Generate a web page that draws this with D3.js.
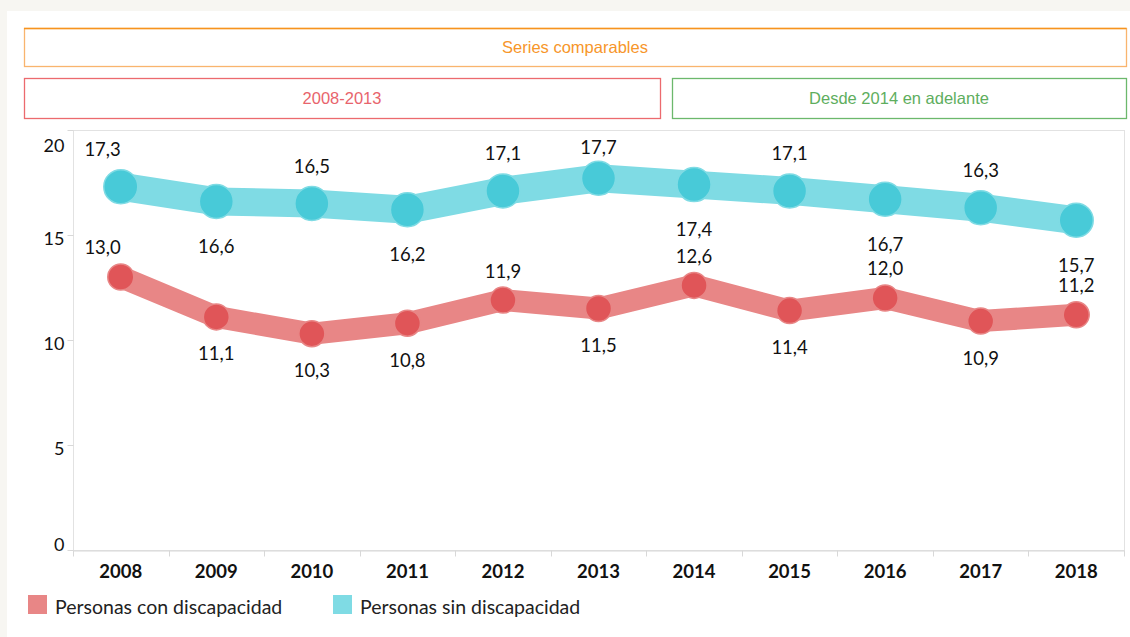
<!DOCTYPE html>
<html>
<head>
<meta charset="utf-8">
<script src="https://cdn.jsdelivr.net/npm/d3@7"></script>
<style>
  body { margin: 0; background: #f7f6f2; }
  svg { display: block; }
  .axis text { font-family: Lato, "Open Sans", sans-serif; fill: #111; }
  .box text { font-family: "Liberation Sans", Arial, sans-serif; font-size: 16.5px; }
</style>
</head>
<body>
<div id="chart"></div>
<script>
// data
var years = ["2008", "2009", "2010", "2011", "2012", "2013", "2014", "2015", "2016", "2017", "2018"];
var conDiscapacidad = [13.0, 11.1, 10.3, 10.8, 11.9, 11.5, 12.6, 11.4, 12.0, 10.9, 11.2];
var sinDiscapacidad = [17.3, 16.6, 16.5, 16.2, 17.1, 17.7, 17.4, 17.1, 16.7, 16.3, 15.7];
var conLabelPos = ["above", "below", "below", "below", "above", "below", "above", "below", "above", "below", "above"];
var sinLabelPos = ["above", "below", "above", "below", "above", "above", "below", "above", "below", "above", "below"];
var yTicks = [0, 5, 10, 15, 20];
var seriesNames = ["Personas con discapacidad", "Personas sin discapacidad"];
var headerTop = "Series comparables";
var headerLeft = "2008-2013";
var headerRight = "Desde 2014 en adelante";

var W = 1130, H = 637;
var svg = d3.select("#chart").append("svg")
    .attr("width", W)
    .attr("height", H);

// white panel
svg.append("rect")
    .attr("x", 7).attr("y", 11)
    .attr("width", W - 7).attr("height", H - 11)
    .attr("fill", "#fff");

// header boxes
var boxes = svg.append("g").attr("class", "box");
function headerBox(x, y, w, h, stroke, color, label) {
    boxes.append("rect")
        .attr("x", x + 0.5).attr("y", y + 0.5)
        .attr("width", w).attr("height", h)
        .attr("fill", "none")
        .attr("stroke", stroke)
        .attr("stroke-width", 1.3);
    boxes.append("text")
        .attr("x", x + w / 2).attr("y", y + h / 2)
        .attr("dy", "0.35em")
        .attr("text-anchor", "middle")
        .attr("fill", color)
        .text(label);
}
headerBox(24, 28, 1102, 38, "#f9b46e", "#f7962a", headerTop);
boxes.append("line")
    .attr("x1", 24).attr("x2", 1126.5)
    .attr("y1", 28.5).attr("y2", 28.5)
    .attr("stroke", "#f7931e").attr("stroke-width", 1.3);
headerBox(24, 78, 636, 40, "#ec6a6e", "#e8646c", headerLeft);
headerBox(672, 78, 454, 40, "#6cb86c", "#5eae5e", headerRight);

// plot
var margin = { top: 130, right: 1124, bottom: 550, left: 73 };

var x = d3.scaleBand()
    .domain(years)
    .range([margin.left, margin.right]);

var y = d3.scaleLinear()
    .domain([0, 20])
    .range([margin.bottom, margin.top]);

// frame
svg.append("rect")
    .attr("x", margin.left + 0.5).attr("y", margin.top + 0.5)
    .attr("width", margin.right - margin.left)
    .attr("height", margin.bottom - margin.top)
    .attr("fill", "none")
    .attr("stroke", "#e2e2e2");

// y axis
var yAxis = svg.append("g")
    .attr("class", "axis")
    .attr("transform", "translate(" + (margin.left + 0.5) + ",0)");
yAxis.selectAll("line")
    .data(yTicks).enter()
    .append("line")
    .attr("x1", -6).attr("x2", 0)
    .attr("y1", function (d) { return y(d) + 0.5; })
    .attr("y2", function (d) { return y(d) + 0.5; })
    .attr("stroke", "#d8d8d8");
yAxis.selectAll("text")
    .data(yTicks).enter()
    .append("text")
    .attr("x", -9)
    .attr("y", function (d) { return Math.max(146, Math.min(545, y(d) + 4)); })
    .attr("dy", "0.35em")
    .attr("text-anchor", "end")
    .style("font-size", "18px")
    .text(function (d) { return d; });

// x axis
var xAxis = svg.append("g")
    .attr("class", "axis")
    .attr("transform", "translate(0," + (margin.bottom + 0.5) + ")")
    .call(d3.axisBottom(x).tickSize(0).tickPadding(14));
xAxis.select(".domain").attr("stroke", "#d8d8d8");
xAxis.selectAll("text")
    .style("font-size", "18.5px")
    .style("font-weight", "bold");
xAxis.selectAll(".sep")
    .data(years.concat(["end"])).enter()
    .append("line")
    .attr("class", "sep")
    .attr("x1", function (d, i) { return Math.round(margin.left + i * x.bandwidth()) + 0.5; })
    .attr("x2", function (d, i) { return Math.round(margin.left + i * x.bandwidth()) + 0.5; })
    .attr("y1", 0).attr("y2", 6)
    .attr("stroke", "#d8d8d8");

var cx = function (d, i) { return x(years[i]) + x.bandwidth() / 2; };

var series = [
    { values: sinDiscapacidad, pos: sinLabelPos, line: "#7fdbe4", dot: "#48cad8", lw: 28, r: 17, up: -37, down: 45 },
    { values: conDiscapacidad, pos: conLabelPos, line: "#e88686", dot: "#e05558", lw: 22, r: 13, up: -29, down: 37 }
];

series.forEach(function (s) {
    var line = d3.line()
        .x(function (d, i) { return cx(d, i); })
        .y(function (d) { return y(d); });

    svg.append("path")
        .datum(s.values)
        .attr("d", line)
        .attr("fill", "none")
        .attr("stroke", s.line)
        .attr("stroke-width", s.lw)
        .attr("stroke-linejoin", "round");

    svg.append("g").selectAll("circle")
        .data(s.values).enter()
        .append("circle")
        .attr("cx", cx)
        .attr("cy", function (d) { return y(d); })
        .attr("r", s.r)
        .attr("fill", s.dot)
        .attr("stroke", s.line)
        .attr("stroke-width", 1.5);
});

// value labels
series.forEach(function (s) {
    svg.append("g").selectAll("text")
        .data(s.values).enter()
        .append("text")
        .attr("x", cx)
        .attr("text-anchor", function (d, i) { return i === 0 ? "end" : "middle"; })
        .attr("y", function (d, i) {
            var yy = y(d) + (s.pos[i] === "above" ? s.up : s.down);
            return Math.max(148, yy);
        })
        .attr("dy", "0.35em")
        .style("font-family", "Lato, 'Open Sans', sans-serif")
        .style("font-size", "18.5px")
        .attr("fill", "#111")
        .text(function (d) { return d3.format(".1f")(d).replace(".", ","); });
});

// legend
var legendColors = ["#e88686", "#7fdbe4"];
var legendX = [28, 333];
var legend = svg.append("g").selectAll("g")
    .data(seriesNames).enter()
    .append("g")
    .attr("transform", function (d, i) { return "translate(" + legendX[i] + ",595)"; });
legend.append("rect")
    .attr("width", 19).attr("height", 19)
    .attr("fill", function (d, i) { return legendColors[i]; });
legend.append("text")
    .attr("x", 27).attr("y", 12)
    .attr("dy", "0.35em")
    .style("font-family", "Lato, 'Open Sans', sans-serif")
    .style("font-size", "19.5px")
    .attr("fill", "#222")
    .text(function (d) { return d; });
</script>
</body>
</html>
